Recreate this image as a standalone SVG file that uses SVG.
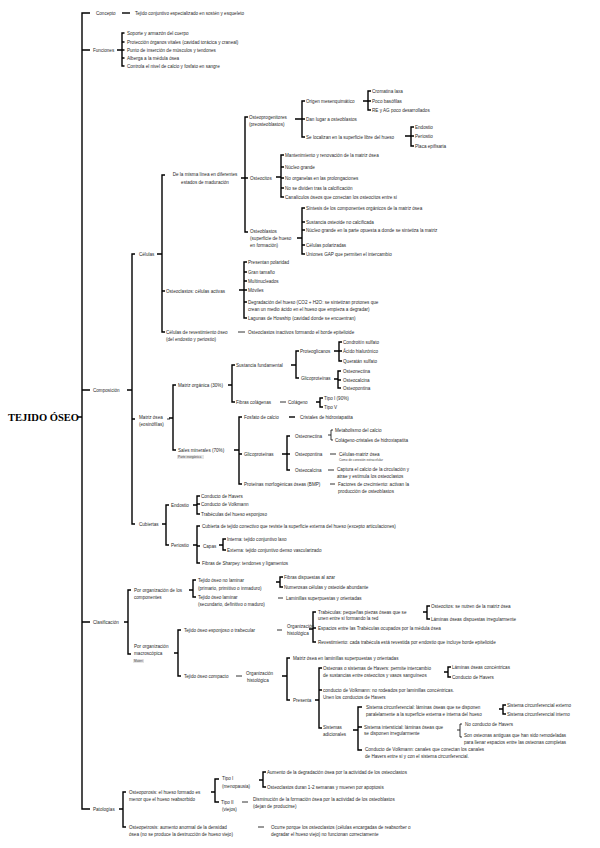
<svg xmlns="http://www.w3.org/2000/svg" width="600" height="848" viewBox="0 0 600 848">
<style>
text{font-family:"Liberation Sans",Arial,sans-serif;font-size:4.6px;fill:#2a2a2a;dominant-baseline:central}
.title{font-family:"Liberation Serif","Times New Roman",serif;font-size:10.5px;font-weight:bold;fill:#000}
.s{font-size:3.2px;fill:#444}
.c{text-anchor:middle}
.b{fill:none;stroke:#000;stroke-width:1.4}
.d{fill:none;stroke:#000;stroke-width:0.8}
.k{fill:none;stroke:#000;stroke-width:1.4}
</style>
<rect width="600" height="848" fill="#fff"/>
<g id="connectors">
<path class="b" d="M90,13 H82 V809 H90 M78,417 H82 M82,50 H90 M82,390 H90 M82,622 H90"/>
<path class="k" d="M122,13 H130"/>
<path class="b" d="M124.5,33 H122 V66 H124.5 M117,50 H122 M122,42 H124.5 M122,50 H124.5 M122,58 H124.5"/>
<path class="b" d="M135,254 H132 V524 H135 M127,390 H132 M132,419 H135"/>
<path class="b" d="M165,175 H162 V332 H165 M157,254 H162 M162,291 H165"/>
<path class="b" d="M248,117 H245 V232 H248 M241,178 H245 M245,178 H248"/>
<path class="b" d="M305,101 H302 V137 H305 M295,119 H302 M302,119 H305"/>
<path class="b" d="M371,91 H368 V110 H371 M363,101 H368 M368,101 H371"/>
<path class="b" d="M414,127 H411 V146 H414 M405,136 H411 M411,136 H414"/>
<path class="b" d="M284,155 H281 V197 H284 M276,177 H281 M281,167 H284 M281,178 H284 M281,188 H284"/>
<path class="b" d="M305,208 H302 V254 H305 M297,238 H302 M302,222 H305 M302,230 H305 M302,245 H305"/>
<path class="b" d="M247,262 H244 V318 H247 M239,290 H244 M244,272 H247 M244,281 H247 M244,290 H247 M244,302 H247"/>
<path class="d" d="M238,332 H245"/>
<path class="d" d="M167,419 H170"/>
<path class="b" d="M176,385 H173 V450 H176 M169,418 H173"/>
<path class="b" d="M235,365 H232 V402 H235 M228,385 H232"/>
<path class="b" d="M299,351 H296 V378 H299 M291,365 H296"/>
<path class="b" d="M342,342 H339 V361 H342 M334,351 H339 M339,351 H342"/>
<path class="b" d="M341,371 H338 V388 H341 M334,379 H338 M338,380 H341"/>
<path class="d" d="M280,402 H286"/>
<path class="b" d="M323,398 H320 V407 H323 M316,402 H320"/>
<path class="b" d="M242,417 H239 V484 H242 M234,450 H239 M239,454 H242"/>
<path class="k" d="M289,417 H295"/>
<path class="b" d="M290,436 H287 V470 H290 M282,454 H287 M287,454 H290"/>
<path class="d" d="M333,430 H331 V440 H333 M328,435 H331"/>
<path class="d" d="M330,454 H336 M328,470 H334 M330,484 H335"/>
<path class="b" d="M169,505 H166 V545 H169 M162,524 H166"/>
<path class="b" d="M200,496 H197 V514 H200 M193,505 H197 M197,504 H200"/>
<path class="b" d="M200,526 H197 V563 H200 M193,545 H197 M197,546 H200"/>
<path class="b" d="M226,539 H223 V550 H226 M219,545 H223"/>
<path class="b" d="M131,590 H128 V654 H131 M124,622 H128"/>
<path class="b" d="M196,580 H193 V597 H196 M189,590 H193"/>
<path class="b" d="M283,577 H280 V587 H283 M276,582 H280"/>
<path class="d" d="M278,598 H283"/>
<path class="b" d="M181,630 H178 V676 H181 M174,653 H178"/>
<path class="d" d="M277,630 H282"/>
<path class="b" d="M316,612 H313 V642 H316 M309,629 H313 M313,628 H316"/>
<path class="b" d="M430,606 H427 V619 H430 M423,612 H427"/>
<path class="d" d="M236,676 H242"/>
<path class="b" d="M290,658 H287 V700 H290 M282,676 H287"/>
<path class="b" d="M322,668 H319 V728 H322 M315,700 H319 M319,690 H322"/>
<path class="b" d="M451,667 H448 V677 H451 M444,672 H448"/>
<path class="b" d="M362,707 H358 V750 H362 M353,730 H358 M358,727 H362"/>
<path class="b" d="M506,705 H503 V714 H506 M499,709 H503"/>
<path class="d" d="M462,724 H460 V737 H462 M457,730 H460"/>
<path class="b" d="M126,792 H123 V827 H126 M119,809 H123"/>
<path class="b" d="M219,779 H215 V802 H219 M211,792 H215"/>
<path class="b" d="M266,772 H263 V787 H266 M259,780 H263"/>
<path class="d" d="M242,802 H248 M258,827 H264"/>
</g>
<g id="title"><text class="title" x="8" y="417">TEJIDO ÓSEO</text></g>
<g id="concepto"><text x="96" y="13">Concepto</text><text x="135" y="13">Tejido conjuntivo especializado en sostén y esqueleto</text></g>
<g id="funciones"><text x="93" y="50">Funciones</text>
<text x="127" y="33">Soporte y armazón del cuerpo</text>
<text x="127" y="42">Protección órganos vitales (cavidad torácica y craneal)</text>
<text x="127" y="50">Punto de inserción de músculos y tendones</text>
<text x="127" y="58">Alberga a la médula ósea</text>
<text x="127" y="66">Controla el nivel de calcio y fosfato en sangre</text></g>
<g id="composicion"><text x="93" y="390">Composición</text></g>
<g id="celulas"><text x="139" y="254">Células</text></g>
<g id="linea"><text class="c" x="205" y="174">De la misma línea en diferentes</text><text class="c" x="205" y="182">estados de maduración</text></g>
<g id="osteoprogenitores"><text x="249" y="117">Osteoprogenitores</text><text x="249" y="124">(preosteoblastos)</text>
<text x="306" y="101">Origen mesenquimático</text>
<text x="306" y="119">Dan lugar a osteoblastos</text>
<text x="306" y="137">Se localizan en la superficie libre del hueso</text>
<text x="372" y="91">Cromatina laxa</text>
<text x="372" y="101">Poco basófilas</text>
<text x="372" y="110">RE y AG poco desarrollados</text>
<text x="415" y="127">Endostio</text>
<text x="415" y="136">Periostio</text>
<text x="415" y="146">Placa epifisaria</text></g>
<g id="osteocitos"><text x="250" y="178">Osteocitos</text>
<text x="285" y="155">Mantenimiento y renovación de la matriz ósea</text>
<text x="285" y="167">Núcleo grande</text>
<text x="285" y="178">No organelas en las prolongaciones</text>
<text x="285" y="188">No se dividen tras la calcificación</text>
<text x="285" y="197">Canalículos óseos que conectan los osteocitos entre sí</text></g>
<g id="osteoblastos"><text x="250" y="231">Osteoblastos</text><text x="250" y="238">(superficie de hueso</text><text x="250" y="245">en formación)</text>
<text x="306" y="208">Síntesis de los componentes orgánicos de la matriz ósea</text>
<text x="306" y="222">Sustancia osteoide no calcificada</text>
<text x="306" y="230">Núcleo grande en la parte opuesta a donde se sintetiza la matriz</text>
<text x="306" y="245">Células polarizadas</text>
<text x="306" y="254">Uniones GAP que permiten el intercambio</text></g>
<g id="osteoclastos"><text x="166" y="291">Osteoclastos: células activas</text>
<text x="248" y="262">Presentan polaridad</text>
<text x="248" y="272">Gran tamaño</text>
<text x="248" y="281">Multinucleados</text>
<text x="248" y="290">Móviles</text>
<text x="248" y="302">Degradación del hueso (CO2 + H2O: se sintetizan protones que</text>
<text x="248" y="309">crean un medio ácido en el hueso que empieza a degradar)</text>
<text x="248" y="318">Lagunas de Howship (cavidad donde se encuentran)</text></g>
<g id="revestimiento"><text x="166" y="332">Células de revestimiento óseo</text><text x="166" y="339">(del endostio y periostio)</text>
<text x="248" y="332">Osteoclastos inactivos formando el borde epitelioide</text></g>
<g id="matriz"><text x="139" y="417">Matriz ósea</text><text x="139" y="424">(eosinófilas)</text></g>
<g id="organica"><text x="178" y="385">Matriz orgánica (30%)</text>
<text x="236" y="365">Sustancia fundamental</text>
<text x="300" y="351">Proteoglicanos</text>
<text x="343" y="342">Condroitín sulfato</text>
<text x="343" y="351">Ácido hialurónico</text>
<text x="343" y="361">Queratán sulfato</text>
<text x="301" y="378">Glicoproteínas</text>
<text x="343" y="371">Osteonectina</text>
<text x="343" y="380">Osteocalcina</text>
<text x="343" y="388">Osteopontina</text>
<text x="236" y="402">Fibras colágenas</text>
<text x="288" y="402">Colágeno</text>
<text x="324" y="398">Tipo I (90%)</text>
<text x="324" y="407">Tipo V</text></g>
<g id="sales"><text x="178" y="450">Sales minerales (70%)</text>
<rect x="177" y="455" width="27" height="4" fill="#e6e6e6"/><text class="s" x="178" y="457">Parte inorgánica</text>
<text x="244" y="417">Fosfato de calcio</text>
<text x="300" y="417">Cristales de hidroxiapatita</text>
<text x="244" y="454">Glicoproteínas</text>
<text x="295" y="436">Osteonectina</text>
<text x="335" y="430">Metabolismo del calcio</text>
<text x="335" y="440">Colágeno-cristales de hidroxiapatita</text>
<text x="295" y="454">Osteopontina</text>
<text x="339" y="454">Células-matriz ósea</text>
<text class="s" x="339" y="460">Como de conexión extracelular</text>
<text x="295" y="470">Osteocalcina</text>
<text x="337" y="469">Captura el calcio de la circulación y</text>
<text x="337" y="476">atrae y estimula los osteoclastos</text>
<text x="244" y="484">Proteínas morfogénicas óseas (BMP)</text>
<text x="338" y="484">Factores de crecimiento: activan la</text>
<text x="338" y="491">producción de osteoblastos</text></g>
<g id="cubiertas"><text x="139" y="524">Cubiertas</text>
<text x="171" y="505">Endostio</text>
<text x="201" y="496">Conducto de Havers</text>
<text x="201" y="504">Conducto de Volkmann</text>
<text x="201" y="514">Trabéculas del hueso esponjoso</text>
<text x="171" y="545">Periostio</text>
<text x="202" y="526">Cubierta de tejido conectivo que reviste la superficie externa del hueso (excepto articulaciones)</text>
<text x="203" y="546">Capas</text>
<text x="227" y="539">Interna: tejido conjuntivo laxo</text>
<text x="227" y="550">Externa: tejido conjuntivo denso vascularizado</text>
<text x="202" y="563">Fibras de Sharpey: tendones y ligamentos</text></g>
<g id="clasificacion"><text x="93" y="622">Clasificación</text></g>
<g id="componentes"><text x="134" y="590">Por organización de los</text><text x="134" y="597">componentes</text>
<text x="198" y="580">Tejido óseo no laminar</text><text x="198" y="588">(primario, primitivo o inmaduro)</text>
<text x="284" y="577">Fibras dispuestas al azar</text>
<text x="284" y="587">Numerosas células y osteoide abundante</text>
<text x="198" y="597">Tejido óseo laminar</text><text x="198" y="604">(secundario, definitivo o maduro)</text>
<text x="286" y="598">Laminillas superpuestas y orientadas</text></g>
<g id="macroscopica"><text x="134" y="646">Por organización</text><text x="134" y="653">macroscópica</text>
<rect x="133" y="659" width="11" height="4" fill="#e6e6e6"/><text class="s" x="134" y="661">Materi</text></g>
<g id="esponjoso"><text x="184" y="630">Tejido óseo esponjoso o trabecular</text>
<text x="287" y="626">Organización</text><text x="287" y="633">histológica</text>
<text x="318" y="612">Trabéculas: pequeñas piezas óseas que se</text>
<text x="318" y="618">unen entre sí formando la red</text>
<text x="431" y="606">Osteocitos: se nutren de la matriz ósea</text>
<text x="431" y="619">Láminas óseas dispuestas irregularmente</text>
<text x="318" y="628">Espacios entre las Trabéculas ocupados por la médula ósea</text>
<text x="318" y="642">Revestimiento: cada trabécula está revestida por endostio que incluye borde epitelioide</text></g>
<g id="compacto"><text x="184" y="676">Tejido óseo compacto</text>
<text x="246" y="673">Organización</text><text x="247" y="680">histológica</text>
<text x="293" y="658">Matriz ósea en laminillas superpuestas y orientadas</text>
<text x="293" y="700">Presenta</text>
<text x="323" y="668">Osteonas o sistemas de Havers: permite intercambio</text>
<text x="323" y="675">de sustancias entre osteocitos y vasos sanguíneos</text>
<text x="452" y="667">Láminas óseas concéntricas</text>
<text x="452" y="677">Conducto de Havers</text>
<text x="323" y="690">conducto de Volkmann: no rodeados por laminillas concéntricas.</text>
<text x="323" y="697">Unen los conductos de Havers</text>
<text x="323" y="727">Sistemas</text><text x="323" y="734">adicionales</text>
<text x="366" y="707">Sistema circunferencial: láminas óseas que se disponen</text>
<text x="366" y="714">paralelamente a la superficie externa e interna del hueso</text>
<text x="507" y="705">Sistema circunferencial externo</text>
<text x="507" y="714">Sistema circunferencial interno</text>
<text x="364" y="727">Sistema intersticial: láminas óseas que</text>
<text x="364" y="733">se disponen irregularmente</text>
<text x="465" y="724">No conducto de Havers</text>
<text x="464" y="735">Son osteonas antiguas que han sido remodeladas</text>
<text x="464" y="742">para llenar espacios entre las osteonas completas</text>
<text x="365" y="749">Conducto de Volkmann: canales que conectan los canales</text>
<text x="365" y="756">de Havers entre sí y con el sistema circunferencial.</text></g>
<g id="patologias"><text x="93" y="809">Patologías</text>
<text x="129" y="792">Osteoporosis: el hueso formado es</text>
<text x="129" y="799">menor que el hueso reabsorbido</text>
<text x="222" y="778">Tipo I</text><text x="222" y="786">(menopausia)</text>
<text x="267" y="772">Aumento de la degradación ósea por la actividad de los osteoclastos</text>
<text x="267" y="787">Osteoclastos duran 1-2 semanas y mueren por apoptosis</text>
<text x="221" y="802">Tipo II</text><text x="222" y="809">(viejos)</text>
<text x="253" y="799">Disminución de la formación ósea por la actividad de los osteoblastos</text>
<text x="253" y="806">(dejan de producirse)</text>
<text x="129" y="827">Osteopetrosis: aumento anormal de la densidad</text>
<text x="129" y="834">ósea (no se produce la destrucción de hueso viejo)</text>
<text x="271" y="827">Ocurre porque los osteoclastos (células encargadas de reabsorber o</text>
<text x="271" y="834">degradar el hueso viejo) no funcionan correctamente</text></g>
</svg>
